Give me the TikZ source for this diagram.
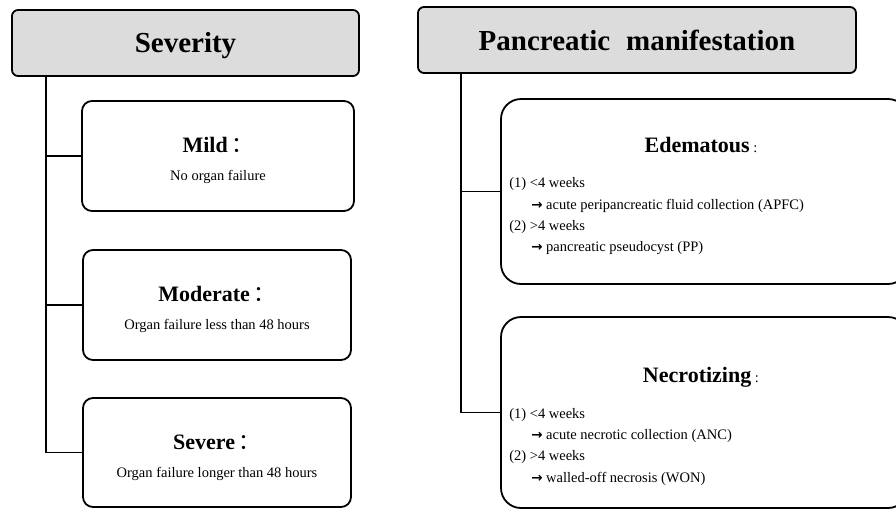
\documentclass[tikz,border=0pt]{standalone}
\usepackage{fontspec}
\setmainfont{Liberation Serif}
\newfontfamily\cjk{Noto Sans CJK SC}
\newfontfamily\arrowfont{DejaVu Sans}
\usetikzlibrary{positioning}
\newcommand*{\hdfont}{\fontsize{29}{34}\selectfont\bfseries}
\newcommand*{\ttlfont}{\fontsize{22}{26}\selectfont\bfseries}
\newcommand*{\txtfont}{\fontsize{14.5}{17}\selectfont}
\newcommand*{\fwcolon}{{\cjk\mdseries ：}}
\newcommand*{\goesto}{\hspace*{22pt}{\arrowfont\bfseries\fontsize{13.5}{14}\selectfont →}\ }
\definecolor{headgray}{HTML}{DCDCDC}
\tikzset{
    header/.style = {draw,line width=1.8pt,rounded corners=6pt,fill=headgray,font=\hdfont},
    grade/.style = {draw,line width=1.8pt,rounded corners=10pt,align=center},
    stage/.style = {draw,line width=1.8pt,rounded corners=20pt},
    stagetitle/.style = {font=\ttlfont},
    steps/.style = {align=left,anchor=north west,inner sep=0pt,font=\fontsize{14.5}{21.3}\selectfont},
    branch/.style = {line width=1.8pt}
}

\begin{document}
\begin{tikzpicture}[x=1pt,y=-1pt]
    \clip (0,0) rectangle (896,509);
    % Headers
    \node[header,minimum width=347pt,minimum height=66pt,text height=25pt,text depth=6pt] (sev)
        at (185.5,43) {Severity};
    \node[header,minimum width=438pt,minimum height=66pt] (pan) at (637,40)
        {Pancreatic\hspace{0.55em}manifestation};
    % Severity grades
    \node[grade,minimum width=272pt,minimum height=110pt] (mild) at (218,156)
        {\rule{0pt}{25pt}{\ttlfont Mild\,\fwcolon}\\[16pt]{\txtfont No organ failure}};
    \node[grade,minimum width=268pt,minimum height=110pt] (moderate) at (217,305)
        {\rule{0pt}{25pt}{\ttlfont Moderate\,\fwcolon}\\[16pt]{\txtfont Organ failure less than 48 hours}};
    \node[grade,minimum width=268pt,minimum height=109pt] (severe) at (217,452.5)
        {\rule{0pt}{25pt}{\ttlfont Severe\,\fwcolon}\\[16pt]{\txtfont Organ failure longer than 48 hours}};
    % Pancreatic stages
    \node[stage,minimum width=407pt,minimum height=185pt] (ede) at (704.5,191.5) {};
    \node[stage,minimum width=407pt,minimum height=191pt] (nec) at (704.5,412.5) {};
    \path (ede.north)
        to +(-3.5,47) node[stagetitle] (edet) {Edematous\,{\txtfont\mdseries :}}
    ;
    \path (ede.west)
        to +(9,-14) node[steps] (edel) {(1) <4 weeks\\
            \goesto acute peripancreatic fluid collection (APFC)\\
            (2) >4 weeks\\
            \goesto pancreatic pseudocyst (PP)}
    ;
    \path (nec.north)
        to +(-3.5,61) node[stagetitle] (nect) {Necrotizing\,{\txtfont\mdseries :}}
    ;
    \path (nec.west)
        to +(9,-4.5) node[steps] (necl) {(1) <4 weeks\\
            \goesto acute necrotic collection (ANC)\\
            (2) >4 weeks\\
            \goesto walled-off necrosis (WON)}
    ;
    % Branches
    \draw[branch] ([xshift=35pt]sev.south west) coordinate (ltop) |- (severe.west);
    \draw[branch] ([xshift=44pt]pan.south west) coordinate (rtop) |- (nec.west);
    \foreach \src/\dest in {ltop/mild,ltop/moderate,rtop/ede}
        \draw[branch] (\dest.west -| \src) -- (\dest.west);
\end{tikzpicture}
\end{document}
